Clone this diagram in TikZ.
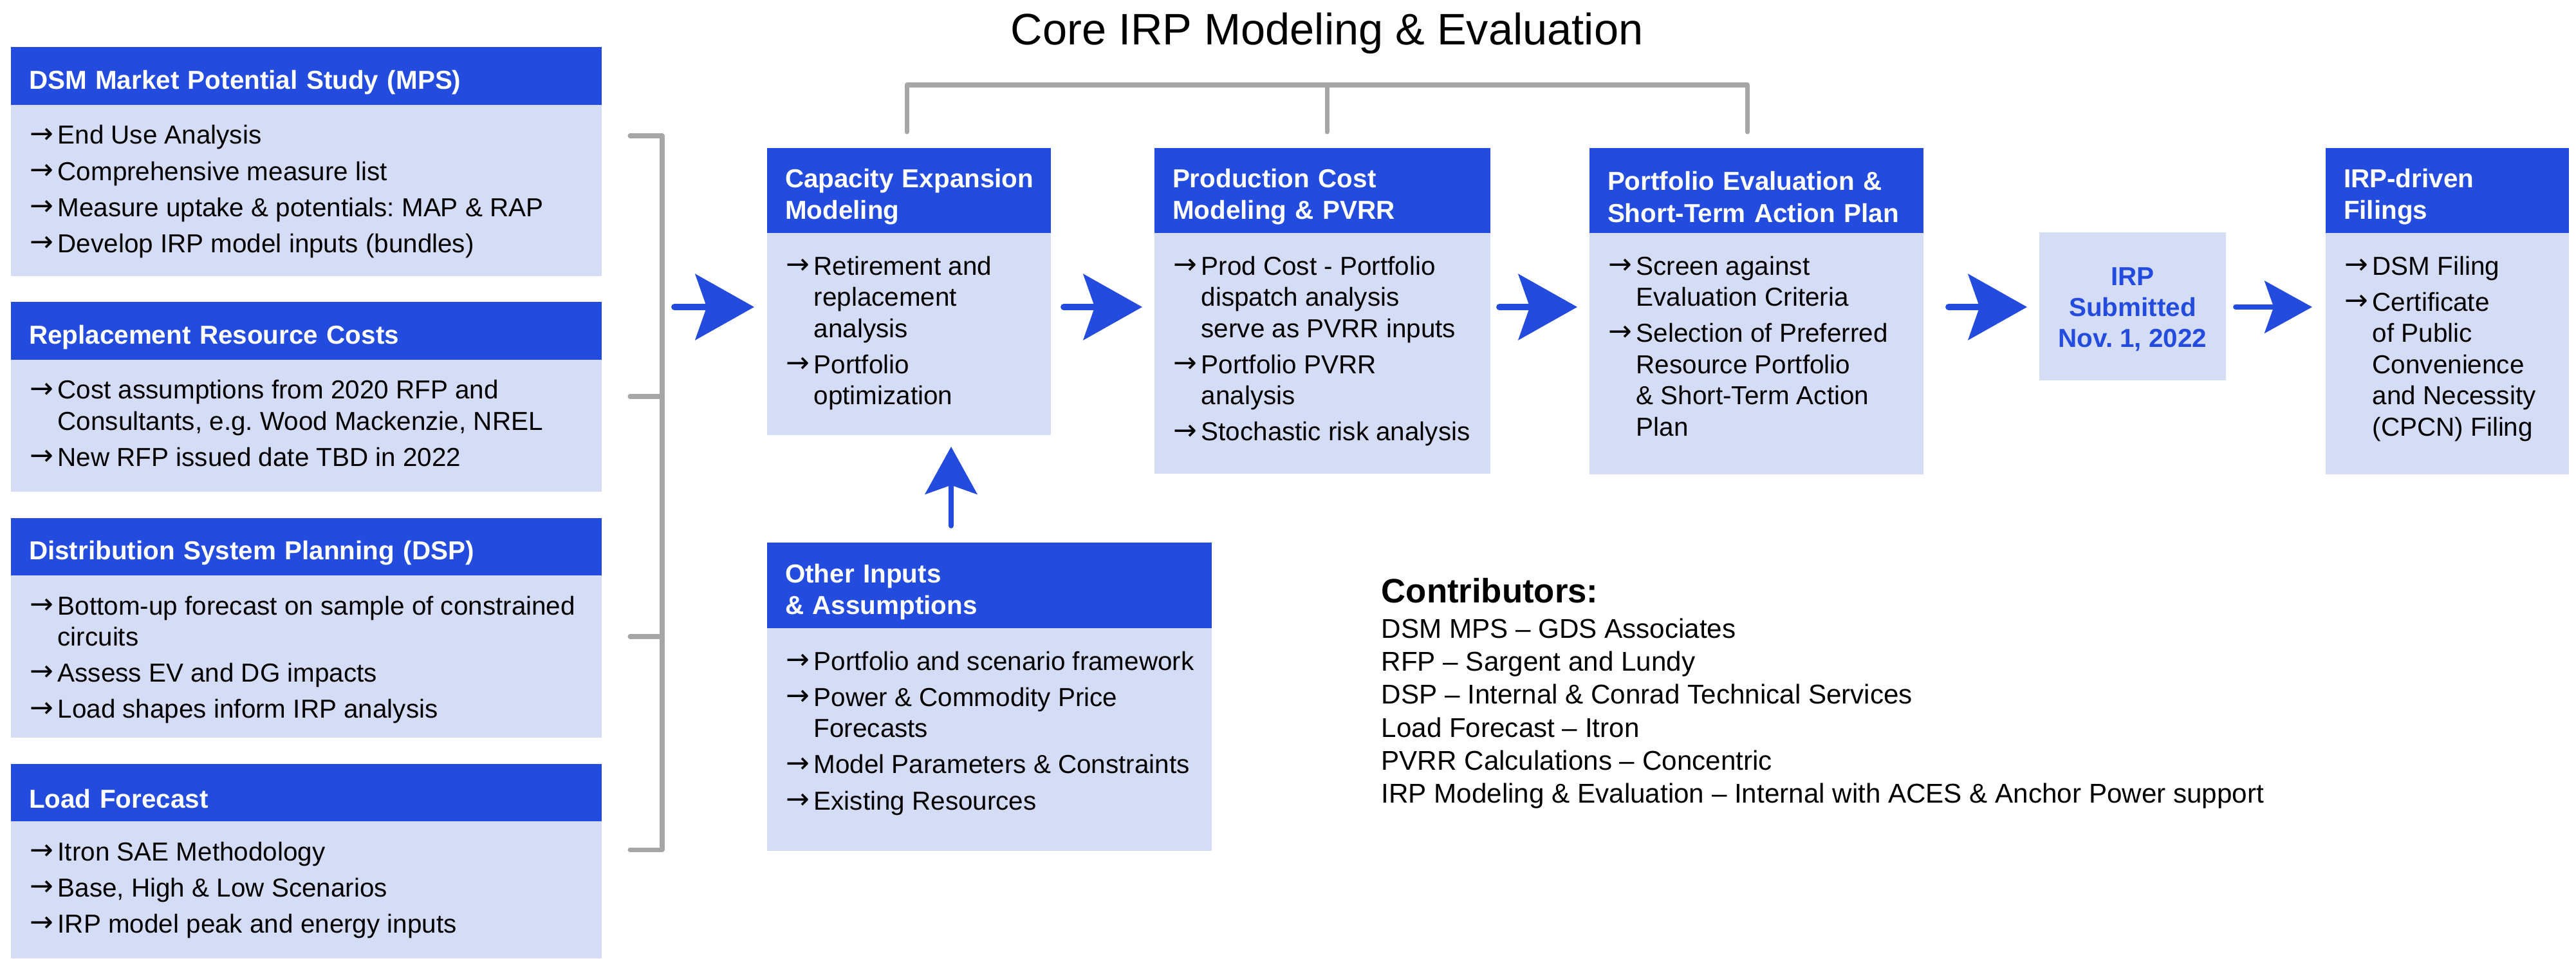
\documentclass[tikz,border=0pt]{standalone}
\usepackage{fontspec}
\setmainfont{Liberation Sans}
\newfontfamily\irparrowfont{DejaVu Sans}
\usepackage{tikz}
\usetikzlibrary{arrows.meta,positioning}
\definecolor{irpblue}{RGB}{35,75,222}
\definecolor{irplight}{RGB}{213,220,246}
\definecolor{irpgray}{RGB}{166,166,166}
\frenchspacing
\newcommand{\irpbody}{\fontsize{11.5}{13.8}\selectfont}
\newcommand{\irphead}{\fontsize{11.5}{14}\selectfont\bfseries}
\newcommand{\irpar}{\makebox[0.43cm][l]{\irparrowfont\fontsize{12.5}{13.8}\selectfont\raisebox{0.04em}{→}}}
\newcommand{\irpin}{\hspace*{0.43cm}}
\newcommand{\irphd}{\rule{0pt}{14pt}}
\tikzset{
  every picture/.append style={line cap=round,line join=round},
  irp head/.style={rectangle,fill=irpblue,text=white,font=\irphead,anchor=north west,
    inner xsep=0.28cm,inner ysep=0pt,outer sep=0pt,align=left},
  irp body/.style={rectangle,fill=irplight,anchor=north west,inner sep=0pt,outer sep=0pt},
  irp items/.style={anchor=north west,inner sep=0pt,align=left,font=\irpbody},
  irp bracket/.style={irpgray,line width=2pt},
  irp flow/.style={irpblue,line width=2.8pt,-{Stealth[length=26pt,width=29pt,inset=5pt]}},
  irp flow small/.style={irpblue,line width=2.2pt,-{Stealth[length=21pt,width=23pt,inset=4pt]}}
}
\begin{document}
\begin{tikzpicture}
  \useasboundingbox (0,0) rectangle (40.03,-14.89);

  % title and core bracket
  \node[font=\fontsize{19.5}{23}\selectfont,anchor=base,inner sep=0] (title) at (20.62,-0.69)
    {Core IRP Modeling \& Evaluation};
  \draw[irp bracket] (14.09,-2.05) -- (14.09,-1.32) -- (27.15,-1.32) -- (27.15,-2.05);
  \draw[irp bracket] (20.62,-1.32) -- (20.62,-2.05);

  % input studies on the left
  \node[irp head,text width=8.62cm,minimum height=0.90cm] (mpsH) at (0.17,-0.73)
    {\irphd DSM Market Potential Study (MPS)};
  \node[irp body,minimum width=9.18cm,minimum height=2.66cm] (mpsB) at (mpsH.south west) {};
  \node[irp items] (mpsT) at ([shift={(0.29,-0.31)}]mpsB.north west)
    {\irpar End Use Analysis\\[2.2pt]
     \irpar Comprehensive measure list\\[2.2pt]
     \irpar Measure uptake \& potentials: MAP \& RAP\\[2.2pt]
     \irpar Develop IRP model inputs (bundles)};

  \node[irp head,text width=8.62cm,minimum height=0.90cm] (rrcH) at (0.17,-4.69)
    {\irphd Replacement Resource Costs};
  \node[irp body,minimum width=9.18cm,minimum height=2.05cm] (rrcB) at (rrcH.south west) {};
  \node[irp items] (rrcT) at ([shift={(0.29,-0.31)}]rrcB.north west)
    {\irpar Cost assumptions from 2020 RFP and\\
     \irpin Consultants, e.g. Wood Mackenzie, NREL\\[2.2pt]
     \irpar New RFP issued date TBD in 2022};

  \node[irp head,text width=8.62cm,minimum height=0.89cm] (dspH) at (0.17,-8.05)
    {\irphd Distribution System Planning (DSP)};
  \node[irp body,minimum width=9.18cm,minimum height=2.52cm] (dspB) at (dspH.south west) {};
  \node[irp items] (dspT) at ([shift={(0.29,-0.31)}]dspB.north west)
    {\irpar Bottom-up forecast on sample of constrained\\
     \irpin circuits\\[2.2pt]
     \irpar Assess EV and DG impacts\\[2.2pt]
     \irpar Load shapes inform IRP analysis};

  \node[irp head,text width=8.62cm,minimum height=0.89cm] (lfH) at (0.17,-11.87)
    {\irphd Load Forecast};
  \node[irp body,minimum width=9.18cm,minimum height=2.13cm] (lfB) at (lfH.south west) {};
  \node[irp items] (lfT) at ([shift={(0.29,-0.31)}]lfB.north west)
    {\irpar Itron SAE Methodology\\[2.2pt]
     \irpar Base, High \& Low Scenarios\\[2.2pt]
     \irpar IRP model peak and energy inputs};

  % bracket gathering the inputs
  \draw[irp bracket] (9.79,-2.11) -- (10.29,-2.11) -- (10.29,-13.20) -- (9.79,-13.20);
  \draw[irp bracket] (9.79,-6.16) -- (10.29,-6.16);
  \draw[irp bracket] (9.79,-9.89) -- (10.29,-9.89);
  \coordinate (brk) at (10.29,-4.77);

  % core modeling steps
  \node[irp head,text width=3.85cm,minimum height=1.32cm] (capH) at (11.92,-2.30)
    {\irphd\mbox{Capacity Expansion}\\Modeling};
  \node[irp body,minimum width=4.41cm,minimum height=3.14cm] (capB) at (capH.south west) {};
  \node[irp items] (capT) at ([shift={(0.29,-0.35)}]capB.north west)
    {\irpar Retirement and\\
     \irpin replacement\\
     \irpin analysis\\[2.2pt]
     \irpar Portfolio\\
     \irpin optimization};

  \node[irp head,text width=4.66cm,minimum height=1.32cm] (pcH) at (17.94,-2.30)
    {\irphd Production Cost\\Modeling \& PVRR};
  \node[irp body,minimum width=5.22cm,minimum height=3.74cm] (pcB) at (pcH.south west) {};
  \node[irp items] (pcT) at ([shift={(0.29,-0.35)}]pcB.north west)
    {\irpar Prod Cost - Portfolio\\
     \irpin dispatch analysis\\
     \irpin serve as PVRR inputs\\[2.2pt]
     \irpar Portfolio PVRR\\
     \irpin analysis\\[2.2pt]
     \irpar Stochastic risk analysis};

  \node[irp head,text width=4.63cm,minimum height=1.32cm] (peH) at (24.70,-2.30)
    {\irphd Portfolio Evaluation \&\\\mbox{Short-Term Action Plan}};
  \node[irp body,minimum width=5.19cm,minimum height=3.75cm] (peB) at (peH.south west) {};
  \node[irp items] (peT) at ([shift={(0.29,-0.35)}]peB.north west)
    {\irpar Screen against\\
     \irpin Evaluation Criteria\\[2.2pt]
     \irpar Selection of Preferred\\
     \irpin Resource Portfolio\\
     \irpin \& Short-Term Action\\
     \irpin Plan};

  \node[irp body,minimum width=2.90cm,minimum height=2.30cm] (subB) at (31.69,-3.61) {};
  \node[text=irpblue,align=center,inner sep=0,font=\fontsize{11.5}{13.7}\selectfont\bfseries]
    (subT) at ([yshift=-0.05cm]subB.center) {IRP\\Submitted\\Nov. 1, 2022};

  \node[irp head,text width=3.22cm,minimum height=1.32cm] (filH) at (36.14,-2.30)
    {\irphd IRP-driven\\Filings};
  \node[irp body,minimum width=3.78cm,minimum height=3.75cm] (filB) at (filH.south west) {};
  \node[irp items] (filT) at ([shift={(0.29,-0.35)}]filB.north west)
    {\irpar DSM Filing\\[2.2pt]
     \irpar Certificate\\
     \irpin of Public\\
     \irpin Convenience\\
     \irpin and Necessity\\
     \irpin (CPCN) Filing};

  \node[irp head,text width=6.35cm,minimum height=1.33cm] (othH) at (11.92,-8.43)
    {\irphd Other Inputs\\\& Assumptions};
  \node[irp body,minimum width=6.91cm,minimum height=3.46cm] (othB) at (othH.south west) {};
  \node[irp items] (othT) at ([shift={(0.29,-0.35)}]othB.north west)
    {\irpar Portfolio and scenario framework\\[2.2pt]
     \irpar Power \& Commodity Price\\
     \irpin Forecasts\\[2.2pt]
     \irpar Model Parameters \& Constraints\\[2.2pt]
     \irpar Existing Resources};

  % flow arrows
  \draw[irp flow,shorten <=0.19cm,shorten >=0.20cm] (brk) -- (capB.west |- brk);
  \draw[irp flow,shorten <=0.20cm,shorten >=0.19cm] (capB.east |- brk) -- (pcB.west |- brk);
  \draw[irp flow,shorten <=0.14cm,shorten >=0.19cm] (pcB.east |- brk) -- (peB.west |- brk);
  \draw[irp flow,shorten <=0.39cm,shorten >=0.19cm] (peB.east |- brk) -- (subB.west |- brk);
  \draw[irp flow small,shorten <=0.15cm,shorten >=0.21cm] (subB.east |- brk) -- (filB.west |- brk);
  \coordinate (upx) at (14.78,0);
  \draw[irp flow small,shorten <=0.26cm,shorten >=0.18cm] (othH.north -| upx) -- (capB.south -| upx);

  % contributors
  \node[font=\fontsize{15}{18}\selectfont\bfseries,anchor=base west,inner sep=0] (conhead)
    at (21.46,-9.36) {Contributors:};
  \node[anchor=north west,inner sep=0,align=left,font=\fontsize{12}{14.6}\selectfont] (conlist)
    at (21.46,-9.60)
    {DSM MPS – GDS Associates\\
     RFP – Sargent and Lundy\\
     DSP – Internal \& Conrad Technical Services\\
     Load Forecast – Itron\\
     PVRR Calculations – Concentric\\
     IRP Modeling \& Evaluation – Internal with ACES \& Anchor Power support};
\end{tikzpicture}
\end{document}
